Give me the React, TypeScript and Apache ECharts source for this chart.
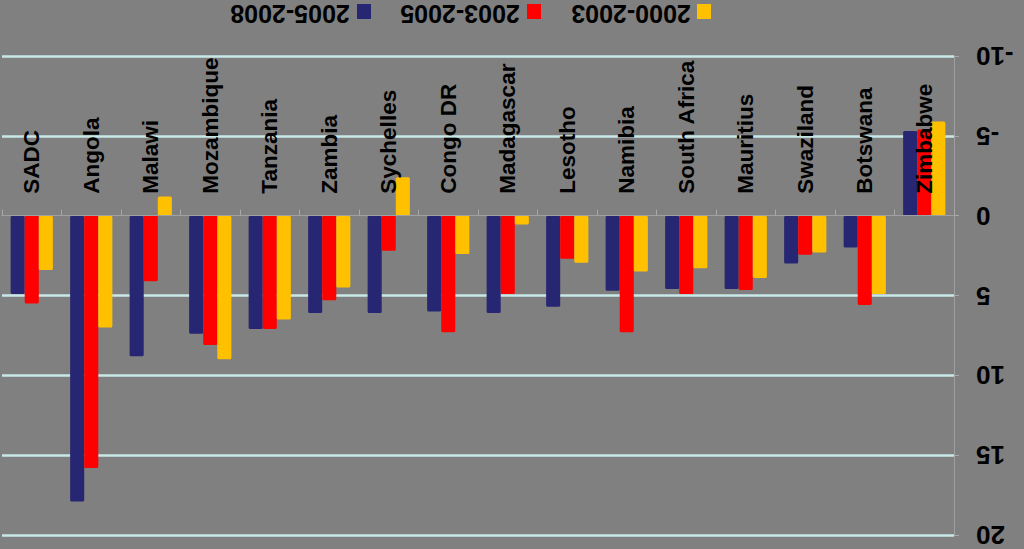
import React, { useEffect, useRef } from "react";
import * as echarts from "echarts";

const categories = [
  "SADC", "Angola", "Malawi", "Mozambique", "Tanzania", "Zambia", "Sychelles", "Congo DR",
  "Madagascar", "Lesotho", "Namibia", "South Africa", "Mauritius", "Swaziland", "Botswana", "Zimbabwe",
];
const s2005_2008 = [4.9, 17.9, 8.8, 7.4, 7.1, 6.1, 6.1, 6.0, 6.1, 5.7, 4.7, 4.6, 4.6, 3.0, 2.0, -5.3];
const s2003_2005 = [5.5, 15.8, 4.1, 8.1, 7.1, 5.3, 2.2, 7.3, 4.9, 2.7, 7.3, 4.9, 4.65, 2.45, 5.6, -5.4];
const s2000_2003 = [3.4, 7.0, -1.2, 9.0, 6.5, 4.5, -2.4, 2.4, 0.55, 2.95, 3.5, 3.3, 3.9, 2.3, 4.9, -5.9];
const seriesNames = ["2005-2008", "2003-2005", "2000-2003"];
const seriesColors = ["#262672", "#ff0000", "#ffc000"];
const yMin = -10;
const yMax = 20;
const yInterval = 5;

const FONT = "'Liberation Sans', Arial, sans-serif";

export default function App() {
  const ref = useRef<HTMLDivElement>(null);
  useEffect(() => {
    if (!ref.current) return;
    const chart = echarts.init(ref.current, undefined, { renderer: "svg" });
    const data = [s2005_2008, s2003_2005, s2000_2003];
    const legendCenters = [290, 460, 631];
    const swatchX = [357, 527, 697];
    const legendGraphics: any[] = [];
    seriesNames.forEach((n, i) => {
      legendGraphics.push({
        type: "rect",
        shape: { x: swatchX[i], y: 4, width: 14, height: 15 },
        style: { fill: seriesColors[i] },
      });
      legendGraphics.push({
        type: "text",
        x: legendCenters[i],
        y: 14,
        rotation: Math.PI,
        style: {
          text: n,
          fill: "#000",
          font: `bold 25px ${FONT}`,
          align: "center",
          verticalAlign: "middle",
        },
      });
    });
    const gridTop = 56;
    const gridBottom = 14;
    const plotH = 549 - gridTop - gridBottom;
    const zeroOffset = (plotH * (0 - yMin)) / (yMax - yMin);
    const gridColors = ["#c8e8e8", "#c8e8e8", "rgba(0,0,0,0)", "#c8e8e8", "#c8e8e8", "#c8e8e8", "#c8e8e8"];
    chart.setOption({
      animation: false,
      backgroundColor: "#808080",
      grid: { left: 2, right: 70, top: gridTop, bottom: gridBottom, containLabel: false, outerBoundsMode: "none" },
      xAxis: {
        type: "category",
        data: categories,
        position: "top",
        offset: -zeroOffset,
        z: 10,
        axisLine: { onZero: false, lineStyle: { color: "#a0a0a0", width: 1 } },
        axisTick: { show: true, length: 6, lineStyle: { color: "#a8a8a8" } },
        axisLabel: {
          interval: 0,
          rotate: -90,
          margin: 22,
          color: "#000",
          fontSize: 22.5,
          fontWeight: "bold",
          fontFamily: FONT,
        },
      },
      yAxis: {
        type: "value",
        inverse: true,
        position: "right",
        min: yMin,
        max: yMax,
        interval: yInterval,
        axisLine: { show: true, lineStyle: { color: "#a0a0a0", width: 1 } },
        axisTick: { show: true, length: 5, lineStyle: { color: "#a8a8a8" } },
        axisLabel: {
          rotate: 180,
          margin: 22,
          color: "#000",
          fontSize: 26,
          lineHeight: 26,
          fontWeight: "bold",
          fontFamily: FONT,
        },
        splitLine: { show: true, lineStyle: { color: gridColors, width: 2.5 } },
      },
      series: data.map((d, i) => ({
        name: seriesNames[i],
        type: "bar",
        data: d,
        barGap: "0%",
        barCategoryGap: "29%",
        itemStyle: { color: seriesColors[i], borderRadius: 1.5 },
      })),
      graphic: legendGraphics,
    });
    return () => chart.dispose();
  }, []);
  return (
    <div
      ref={ref}
      style={{ position: "fixed", left: 0, top: 0, width: 1024, height: 549 }}
    />
  );
}
